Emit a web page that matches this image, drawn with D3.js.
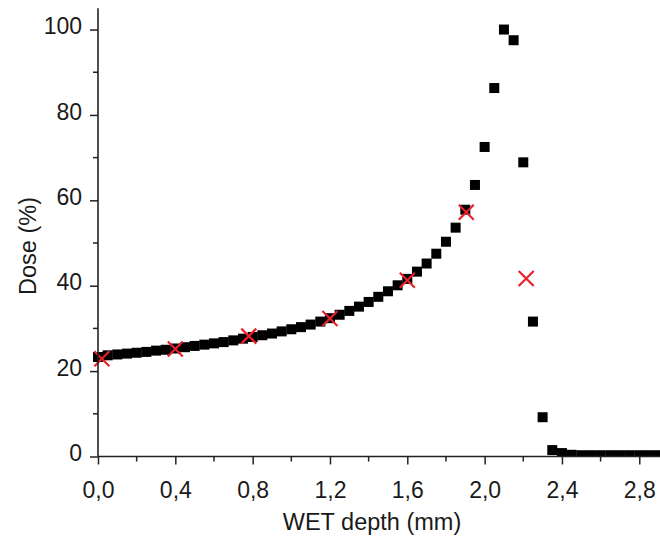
<!DOCTYPE html>
<html><head><meta charset="utf-8">
<script src="https://cdn.jsdelivr.net/npm/d3@7/dist/d3.min.js"></script>
<style>
html,body{margin:0;padding:0;background:#fff;}
svg{display:block;font-family:"Liberation Sans",Arial,sans-serif;}
</style></head>
<body>
<svg id="chart" width="660" height="540"></svg>
<script>
// Measured dose (black squares)
const depth = [0.00,0.05,0.10,0.15,0.20,0.25,0.30,0.35,0.40,0.45,0.50,0.55,0.60,0.65,0.70,0.75,0.80,0.85,0.90,0.95,
  1.00,1.05,1.10,1.15,1.20,1.25,1.30,1.35,1.40,1.45,1.50,1.55,1.60,1.65,1.70,1.75,1.80,1.85,1.90,1.95,
  2.00,2.05,2.10,2.15,2.20,2.25,2.30,2.35,2.40,2.45,2.50,2.55,2.60,2.65,2.70,2.75,2.80,2.85,2.90];
const dose = [23.3,23.7,23.9,24.1,24.3,24.5,24.8,25.0,25.3,25.6,25.9,26.2,26.5,26.8,27.2,27.6,28.0,28.4,28.8,29.3,
  29.8,30.3,30.9,31.6,32.4,33.2,34.1,35.1,36.2,37.4,38.7,40.1,41.6,43.3,45.2,47.5,50.3,53.6,57.8,63.6,
  72.5,86.3,100,97.5,68.9,31.6,9.2,1.5,0.8,0.4,0.3,0.3,0.3,0.3,0.3,0.3,0.3,0.3,0.3];
// Second series (red crosses)
const crossDepth = [0.02,0.40,0.78,1.20,1.60,1.905,2.215];
const crossDose  = [22.9,25.2,28.2,32.3,41.3,57.2,41.7];
// Axes
const xTicks = [0,0.4,0.8,1.2,1.6,2.0,2.4,2.8];
const xMinor = [0.2,0.6,1.0,1.4,1.8,2.2,2.6];
const yTicks = [0,20,40,60,80,100];
const yMinor = [10,30,50,70,90];
const xTitle = "WET depth (mm)";
const yTitle = "Dose (%)";

const svg = d3.select("#chart");
const x = d3.scaleLinear().domain([0,2.9]).range([98,658.6]);
const y = d3.scaleLinear().domain([0,105]).range([456.5,8.2]);
const fmt = d => d3.format(".1f")(d).replace(".", ",");

svg.append("defs").append("clipPath").attr("id","clip")
  .append("rect").attr("x",0).attr("y",0).attr("width",660).attr("height",y(0));

const plot = svg.append("g").attr("clip-path","url(#clip)");
const pts = depth.map((d,i)=>({x:d,y:dose[i]}));
const sq = 10;
plot.selectAll("rect.pt").data(pts).join("rect").attr("class","pt")
  .attr("x",d=>x(d.x)-sq/2).attr("y",d=>y(d.y)-sq/2)
  .attr("width",sq).attr("height",sq).attr("fill","#000");

const crosses = crossDepth.map((d,i)=>({x:d,y:crossDose[i]}));
const cs = 7.5;
plot.selectAll("path.cr").data(crosses).join("path").attr("class","cr")
  .attr("d",d=>{const cx=x(d.x), cy=y(d.y);
    return `M${cx-cs},${cy-cs}L${cx+cs},${cy+cs}M${cx-cs},${cy+cs}L${cx+cs},${cy-cs}`;})
  .attr("stroke","#e8212a").attr("stroke-width",2.2).attr("fill","none");

// X axis
const xAxis = svg.append("g").attr("transform",`translate(0,${y(0)})`);
xAxis.call(d3.axisBottom(x).tickValues(xTicks).tickFormat(fmt).tickSize(8).tickSizeOuter(0));
xAxis.append("g").selectAll("line").data(xMinor).join("line")
  .attr("x1",d=>x(d)).attr("x2",d=>x(d)).attr("y1",0).attr("y2",5).attr("stroke","#222").attr("stroke-width",1.5);
xAxis.select(".domain").attr("d",`M${x(0)},0H660`);
// Y axis
const yAxis = svg.append("g").attr("transform",`translate(${x(0)},0)`);
yAxis.call(d3.axisLeft(y).tickValues(yTicks).tickSize(8).tickSizeOuter(0));
yAxis.append("g").selectAll("line").data(yMinor).join("line")
  .attr("y1",d=>y(d)).attr("y2",d=>y(d)).attr("x1",0).attr("x2",-5).attr("stroke","#222").attr("stroke-width",1.5);
yAxis.select(".domain").attr("d",`M0,${y(0)}V${y(105)}`);

[xAxis,yAxis].forEach(a=>{
  a.select(".domain").attr("stroke","#222").attr("stroke-width",1.6);
  a.selectAll(".tick line").attr("stroke","#222").attr("stroke-width",1.5);
  a.selectAll(".tick text").attr("fill","#1a1a1a").style("font-size","23px").style("font-family","'Liberation Sans',Arial,sans-serif");
});
xAxis.selectAll(".tick text").attr("dy","0").attr("y",41);
yAxis.selectAll(".tick text").attr("x",-16).attr("dy","0.18em");

svg.append("text").text(xTitle).attr("x",372).attr("y",530)
  .attr("text-anchor","middle").attr("fill","#1a1a1a").style("font-size","23.5px");
svg.append("text").text(yTitle).attr("transform","translate(36,246) rotate(-90)")
  .attr("text-anchor","middle").attr("fill","#1a1a1a").style("font-size","23.5px");
</script>
</body></html>
